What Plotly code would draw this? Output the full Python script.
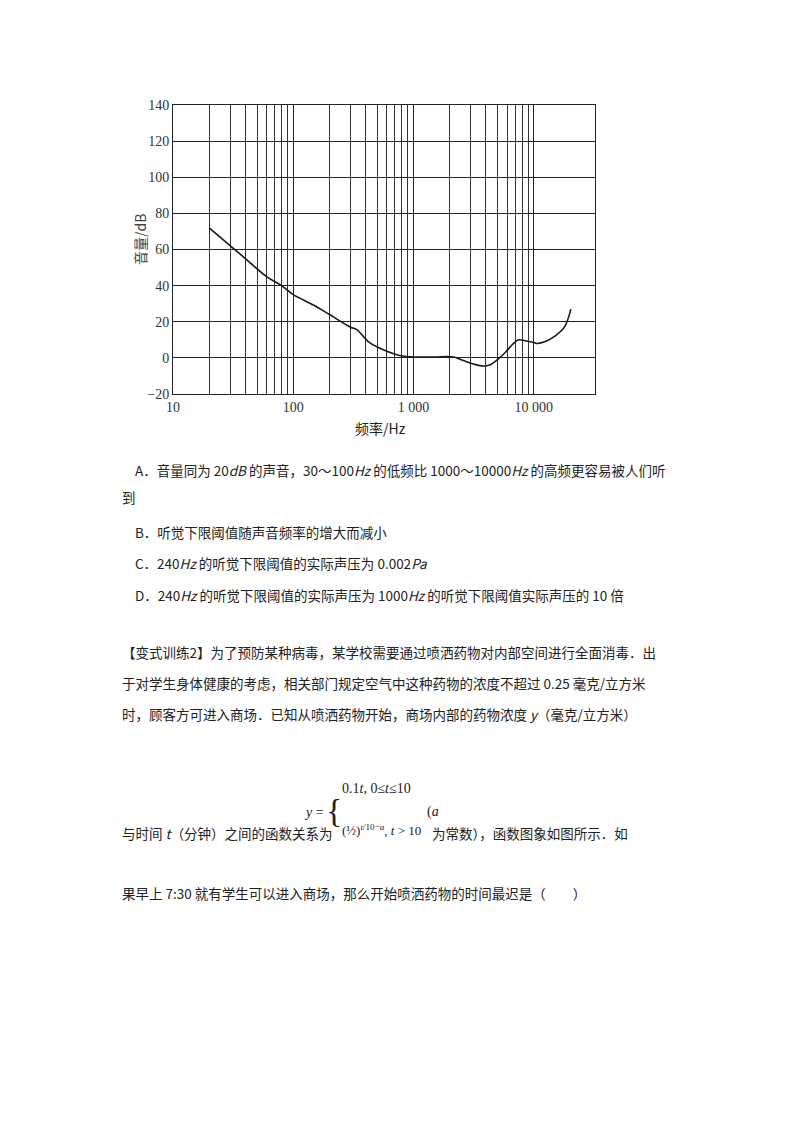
import plotly.graph_objects as go

freq = [20, 30, 40, 60, 80, 100, 150, 200, 300, 340, 420, 500, 750, 1000, 1500, 2150, 2600, 3200, 3800, 4300, 5000, 5800, 6800, 7500, 8500, 10000, 10700, 12500, 15000, 18000, 20400]
level = [72, 62, 55, 45, 40, 35, 29, 24, 17, 15.5, 9, 6, 1.5, 0.5, 0.5, 0.5, -1.5, -3.5, -4.5, -4, -1, 3, 8, 10, 9.5, 8.5, 8, 9, 12, 17, 27]
major_x = [10, 100, 1000, 10000]
major_x_text = ["10", "100", "1 000", "10 000"]
minor_x = [m * d for d in [10, 100, 1000] for m in range(2, 10)]
y_ticks = [-20, 0, 20, 40, 60, 80, 100, 120, 140]
y_text = ["−20", "0", "20", "40", "60", "80", "100", "120", "140"]

OFF = 8  # page body margin
L, R, T, B = 173 - OFF, 595 - OFF, 105 - OFF, 394 - OFF
W, H = 800, 1132

fig = go.Figure(go.Scatter(x=freq, y=level, mode="lines", line=dict(color="#1a1a1a", width=1.6, shape="spline"), showlegend=False))
serif = "Liberation Serif"
fig.update_xaxes(type="log", range=[1, 4.51], tickvals=major_x, ticktext=major_x_text, showgrid=True,
                 gridcolor="#222", gridwidth=1, showline=True, linecolor="#222", mirror=True, ticks="",
                 tickfont=dict(family=serif, size=14, color="#333"),
                 minor=dict(tickvals=minor_x, showgrid=True, gridcolor="#333", gridwidth=0.8, ticks=""), zeroline=False)
fig.update_yaxes(range=[-20, 140], tickvals=y_ticks, ticktext=y_text, showgrid=True, gridcolor="#222", gridwidth=1,
                 showline=True, linecolor="#222", mirror=True, ticks="", zeroline=False,
                 tickfont=dict(family=serif, size=14, color="#333"))

def px(x): return (x - OFF - L) / (R - L)
def py(y): return (B - (y - OFF)) / (B - T)

cjk = "Noto Sans CJK SC"
ann = []
def text(x, y, s, size=13.5, xanchor="left", **kw):
    ann.append(dict(xref="paper", yref="paper", x=px(x), y=py(y), text=s, showarrow=False, xanchor=xanchor,
                    yanchor="middle", font=dict(family=cjk, size=size, color="#222"), **kw))

text(380, 428, "频率/Hz", size=14, xanchor="center")
ann.append(dict(xref="paper", yref="paper", x=px(128), y=py(240), text="音量/dB", showarrow=False, textangle=-90,
                font=dict(family=cjk, size=14, color="#444")))

I = lambda s: f"<i>{s}</i>"
text(133, 470, f"A．音量同为 20{I('dB')} 的声音，30～100{I('Hz')} 的低频比 1000～10000{I('Hz')} 的高频更容易被人们听")
text(120, 497, "到")
text(133, 532, "B．听觉下限阈值随声音频率的增大而减小")
text(133, 563, f"C．240{I('Hz')} 的听觉下限阈值的实际声压为 0.002{I('Pa')}")
text(133, 595, f"D．240{I('Hz')} 的听觉下限阈值的实际声压为 1000{I('Hz')} 的听觉下限阈值实际声压的 10 倍")
text(120, 652, "【变式训练2】为了预防某种病毒，某学校需要通过喷洒药物对内部空间进行全面消毒．出")
text(120, 683, "于对学生身体健康的考虑，相关部门规定空气中这种药物的浓度不超过 0.25 毫克/立方米")
text(120, 714, f"时，顾客方可进入商场．已知从喷洒药物开始，商场内部的药物浓度 {I('y')}（毫克/立方米）")
text(120, 833, f"与时间 {I('t')}（分钟）之间的函数关系为")
text(430, 833, "为常数），函数图象如图所示．如")
text(120, 893, "果早上 7:30 就有学生可以进入商场，那么开始喷洒药物的时间最迟是（　　）")

ms = dict(family=serif, size=14, color="#222")
for x, y, s, sz in [(302, 812, f"{I('y')} =", 14), (324, 810, "{", 34),
                    (340, 788, f"0.1{I('t')}, 0≤{I('t')}≤10", 14),
                    (340, 830, f"(½)<sup>{I('t')}/10−{I('a')}</sup>, {I('t')} > 10", 13),
                    (425, 812, f"({I('a')}", 14)]:
    ann.append(dict(xref="paper", yref="paper", x=px(x), y=py(y), text=s, showarrow=False, xanchor="left",
                    yanchor="middle", font=dict(ms, size=sz)))

fig.update_layout(width=W, height=H, margin=dict(l=L, r=W - R, t=T, b=H - B, autoexpand=False),
                  paper_bgcolor="white", plot_bgcolor="white", annotations=ann)
fig.write_html("out.html")
